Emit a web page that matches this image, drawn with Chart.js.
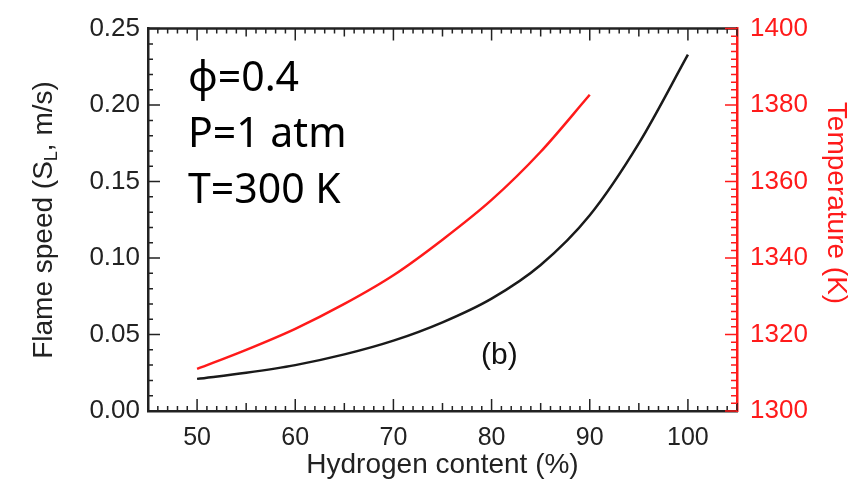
<!DOCTYPE html>
<html>
<head>
<meta charset="utf-8">
<script src="https://cdn.jsdelivr.net/npm/chart.js@4.4.0/dist/chart.umd.min.js"></script>
<style>
  body { margin: 0; background: #fff; }
  #wrap { position: relative; width: 849px; height: 495px; }
  #cond { position: absolute; left: 188px; top: 47px; font-family: "Noto Sans", sans-serif;
          font-size: 41px; line-height: 56px; color: #000; white-space: nowrap; }
  #panel { position: absolute; left: 481px; top: 339px; font-family: "Liberation Sans", Arial, sans-serif;
           font-size: 30px; line-height: 30px; color: #111; }
</style>
</head>
<body>
<div id="wrap">
  <canvas id="chart" width="849" height="495"></canvas>
  <div id="cond">ϕ=0.4<br>P=1 atm<br>T=300 K</div>
  <div id="panel">(b)</div>
</div>
<script>
// hydrogen content (%) -> flame speed (m/s)
const hydrogen = [50, 55, 60, 65, 70, 75, 80, 85, 90, 95, 100];
const flameSpeed = [0.021, 0.025, 0.030, 0.037, 0.046, 0.058, 0.0735, 0.0955, 0.128, 0.175, 0.233];

// hydrogen content (%) -> flame temperature (K)
const hydrogenT = [50, 55, 60, 65, 70, 75, 80, 85, 90];
const temperature = [1311, 1316, 1321.5, 1328, 1335.5, 1344.8, 1355.2, 1367.8, 1382.7];

const xTicks = [50, 60, 70, 80, 90, 100];
const speedTicks = [0, 0.05, 0.10, 0.15, 0.20, 0.25];
const tempTicks = [1300, 1320, 1340, 1360, 1380, 1400];

const AXIS_FONT = 'Liberation Sans, Arial, sans-serif';
const RED = '#ff1a1a';
const INK = '#222';

const toPoints = (xs, ys) => xs.map((x, i) => ({ x: x, y: ys[i] }));
const fixTicks = vals => scale => { scale.ticks = vals.map(v => ({ value: v })); };

// draws text made of [string, font, dy] pieces centred on 0,0
function drawPieces(ctx, parts) {
    let total = 0;
    parts.forEach(p => { ctx.font = p[1]; total += ctx.measureText(p[0]).width; });
    let x = -total / 2;
    parts.forEach(p => {
        ctx.font = p[1];
        ctx.fillText(p[0], x, p[2]);
        x += ctx.measureText(p[0]).width;
    });
}

// inward tick marks, top frame line and the two y titles
const innerTicks = {
    id: 'innerTicks',
    afterDraw(chart) {
        const { ctx, chartArea: a, scales } = chart;
        ctx.save();
        ctx.lineWidth = 1.5;

        // x ticks, bottom and top
        ctx.strokeStyle = INK;
        ctx.beginPath();
        for (let v = 45; v <= 105; v++) {
            const px = scales.x.getPixelForValue(v);
            const len = v % 10 === 0 ? 12 : (v % 5 === 0 ? 8 : 5);
            ctx.moveTo(px, a.bottom); ctx.lineTo(px, a.bottom - len);
            ctx.moveTo(px, a.top); ctx.lineTo(px, a.top + len);
        }
        // left axis ticks
        for (let i = 0; i <= 25; i++) {
            const py = scales.y.getPixelForValue(i / 100);
            const len = i % 5 === 0 ? 12 : 5;
            ctx.moveTo(a.left, py); ctx.lineTo(a.left + len, py);
        }
        ctx.stroke();

        // top frame
        ctx.lineWidth = 2.5;
        ctx.beginPath();
        ctx.moveTo(a.left, a.top); ctx.lineTo(a.right, a.top);
        ctx.stroke();

        // right axis ticks (red)
        ctx.strokeStyle = RED;
        ctx.lineWidth = 1.5;
        ctx.beginPath();
        for (let v = 1300; v <= 1400; v += 2) {
            const py = scales.y1.getPixelForValue(v);
            const len = v % 20 === 0 ? 12 : 6;
            ctx.moveTo(a.right, py); ctx.lineTo(a.right - len, py);
        }
        ctx.stroke();

        ctx.textBaseline = 'middle';
        const big = '28px ' + AXIS_FONT, small = '18px ' + AXIS_FONT;

        // left title with subscript L
        ctx.save();
        ctx.fillStyle = INK;
        ctx.translate(44, 220);
        ctx.rotate(-Math.PI / 2);
        drawPieces(ctx, [['Flame speed (S', big, 0], ['L', small, 8], [', m/s)', big, 0]]);
        ctx.restore();

        // right title
        ctx.save();
        ctx.fillStyle = RED;
        ctx.translate(836, 203);
        ctx.rotate(Math.PI / 2);
        drawPieces(ctx, [['Temperature (K)', big, 0]]);
        ctx.restore();

        ctx.restore();
    }
};

new Chart(document.getElementById('chart'), {
    type: 'line',
    data: {
        datasets: [{
            label: 'Flame speed',
            data: toPoints(hydrogen, flameSpeed),
            yAxisID: 'y',
            borderColor: '#1a1a1a',
            borderWidth: 2.5,
            pointRadius: 0,
            cubicInterpolationMode: 'monotone'
        }, {
            label: 'Temperature',
            data: toPoints(hydrogenT, temperature),
            yAxisID: 'y1',
            borderColor: RED,
            borderWidth: 2.5,
            pointRadius: 0,
            cubicInterpolationMode: 'monotone'
        }]
    },
    options: {
        responsive: false,
        animation: false,
        layout: { padding: { top: 18 } },
        plugins: { legend: { display: false }, tooltip: { enabled: false } },
        scales: {
            x: {
                type: 'linear', min: 45, max: 105,
                afterBuildTicks: fixTicks(xTicks),
                afterFit: s => { s.height = 84; },
                grid: { display: false, drawTicks: false },
                border: { display: true, color: INK, width: 2.5 },
                ticks: { color: INK, padding: 12, font: { family: AXIS_FONT, size: 25 } },
                title: { display: true, text: 'Hydrogen content (%)', color: INK, padding: { top: 0, bottom: 13 },
                         font: { family: AXIS_FONT, size: 28 } }
            },
            y: {
                position: 'left', min: 0, max: 0.25,
                afterBuildTicks: fixTicks(speedTicks),
                afterFit: s => { s.width = 148; },
                grid: { display: false, drawTicks: false },
                border: { display: true, color: INK, width: 2.5 },
                ticks: { color: INK, padding: 8, font: { family: AXIS_FONT, size: 26 },
                         callback: v => v.toFixed(2) }
            },
            y1: {
                position: 'right', min: 1300, max: 1400,
                afterBuildTicks: fixTicks(tempTicks),
                afterFit: s => { s.width = 112; },
                grid: { display: false, drawTicks: false },
                border: { display: true, color: RED, width: 2.5 },
                ticks: { color: RED, padding: 13, font: { family: AXIS_FONT, size: 26 },
                         callback: v => String(v) }
            }
        }
    },
    plugins: [innerTicks]
});
</script>
</body>
</html>
